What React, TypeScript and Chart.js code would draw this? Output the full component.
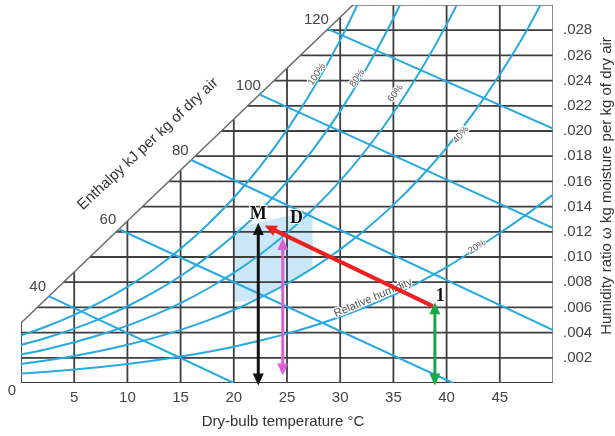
import React, { useEffect, useRef } from 'react';
import { Chart, registerables } from 'chart.js';

Chart.register(...registerables);

// ---------- data ----------
const TEMP_MIN = 0;
const TEMP_MAX = 50;
const W_MIN = 0;
const W_MAX = 0.03;
const TEMP_GRID = [5, 10, 15, 20, 25, 30, 35, 40, 45];
const W_GRID = [0, 0.002, 0.004, 0.006, 0.008, 0.01, 0.012, 0.014, 0.016, 0.018, 0.02, 0.022, 0.024, 0.026, 0.028];

// enthalpy-scale edge (diagonal boundary)
const DIAG_T = [0, 31.2];
const DIAG_W = [0.00476, 0.03];

// relative humidity curves (dry-bulb °C -> kg/kg)
const RH_TEMPS = [0, 2.5, 5, 7.5, 10, 12.5, 15, 17.5, 20, 22.5, 25, 27.5, 30, 32.5, 35, 37.5, 40, 42.5, 45, 47.5, 50];
const RH_100 = [0.003775, 0.004523, 0.005402, 0.006432, 0.007632, 0.00903, 0.01065, 0.012534, 0.014699, 0.017209, 0.020086, 0.023409, 0.02721, 0.031581];
const RH_80 = [0.003016, 0.003613, 0.004315, 0.005135, 0.006091, 0.007203, 0.008491, 0.009987, 0.011704, 0.013692, 0.015966, 0.018587, 0.021579, 0.025011, 0.028927, 0.033408];
const RH_60 = [0.002259, 0.002706, 0.00323, 0.003843, 0.004557, 0.005387, 0.006347, 0.00746, 0.008737, 0.010213, 0.011898, 0.013837, 0.016045, 0.018572, 0.021446, 0.024724, 0.028442, 0.032664];
const RH_40 = [0.001504, 0.001801, 0.00215, 0.002557, 0.003031, 0.003581, 0.004217, 0.004954, 0.005797, 0.006771, 0.007882, 0.009157, 0.010605, 0.012259, 0.014135, 0.016267, 0.018677, 0.021401, 0.024486, 0.027941, 0.031885];
const RH_20 = [0.000751, 0.000899, 0.001073, 0.001276, 0.001512, 0.001785, 0.002101, 0.002467, 0.002885, 0.003367, 0.003916, 0.004545, 0.005258, 0.00607, 0.006988, 0.008029, 0.0092, 0.01052, 0.011907, 0.013364, 0.01495];
const RH_CURVES = [RH_100, RH_80, RH_60, RH_40, RH_20];
const RH_NAMES = ['100%', '80%', '60%', '40%', '20%'];

// enthalpy lines (kJ/kg)
const ENTHALPY_VALUES = [40, 60, 80, 100, 120];
const ENTHALPY_START_T = [2.6, 9.2, 16.0, 22.4, 28.8];
const ENTHALPY_START_W = [0.0069, 0.0122, 0.0177, 0.0229, 0.0281];
const ENTHALPY_END_T = [20.0, 40.6, 50, 50, 50];
const ENTHALPY_END_W = [0, 0, 0.0042, 0.0123, 0.0202];

// shaded zone
const ZONE_T = [20, 27.4, 27.4, 24.4, 22, 20];
const ZONE_W = [0.0123, 0.0137, 0.009, 0.0076, 0.0066, 0.0064];

// process arrows
const ARROW_T1 = [22.3, 24.6, 38.9, 38.7];
const ARROW_W1 = [-0.0002, 0.0006, -0.0002, 0.0061];
const ARROW_T2 = [22.3, 24.6, 38.9, 22.9];
const ARROW_W2 = [0.0127, 0.0115, 0.0064, 0.0125];

// state point labels
const POINT_NAMES = ['M', 'D', '1'];
const POINT_T = [22.3, 25.9, 39.4];
const POINT_W = [0.0134, 0.0131, 0.0069];

// ---------- styles ----------
const FAMILY = '"Liberation Sans", Arial, sans-serif';
const BLUE = '#27a9e1';
const GRID = '#3e3e3e';
const ARROW_STYLE = [
  { color: '#111111', width: 3, both: true },
  { color: '#d862d6', width: 3, both: true },
  { color: '#18a64a', width: 3, both: true },
  { color: '#ee2020', width: 4, both: false },
];
const RH_LABEL_POS = [
  { t: 27.8, w: 0.0245, a: -56 },
  { t: 31.6, w: 0.0242, a: -56 },
  { t: 35.2, w: 0.023, a: -54 },
  { t: 41.35, w: 0.0197, a: -50 },
  { t: 42.86, w: 0.0108, a: -33 },
];

const diagW = (t: number) => DIAG_W[0] + ((DIAG_W[1] - DIAG_W[0]) * (t - DIAG_T[0])) / (DIAG_T[1] - DIAG_T[0]);
const diagT = (w: number) => DIAG_T[0] + ((DIAG_T[1] - DIAG_T[0]) * (w - DIAG_W[0])) / (DIAG_W[1] - DIAG_W[0]);

function buildGrid() {
  const pts: any[] = [];
  TEMP_GRID.forEach((t) => {
    pts.push({ x: t, y: W_MIN }, { x: t, y: Math.min(W_MAX, diagW(t)) }, { x: t, y: null });
  });
  W_GRID.forEach((w) => {
    pts.push({ x: Math.max(TEMP_MIN, diagT(w)), y: w }, { x: TEMP_MAX, y: w }, { x: TEMP_MAX, y: null });
  });
  pts.push({ x: TEMP_MIN, y: W_MIN }, { x: DIAG_T[0], y: DIAG_W[0] });
  return pts;
}

function buildOutline() {
  return [
    { x: DIAG_T[0], y: DIAG_W[0] },
    { x: DIAG_T[1], y: DIAG_W[1] },
    { x: TEMP_MAX, y: W_MAX },
    { x: TEMP_MAX, y: W_MIN },
  ];
}

function buildEnthalpy() {
  const pts: any[] = [];
  ENTHALPY_VALUES.forEach((_, i) => {
    pts.push({ x: ENTHALPY_START_T[i], y: ENTHALPY_START_W[i] }, { x: ENTHALPY_END_T[i], y: ENTHALPY_END_W[i] }, { x: ENTHALPY_END_T[i], y: null });
  });
  return pts;
}

function drawText(ctx: CanvasRenderingContext2D, text: string, x: number, y: number, angle: number, font: string, color: string, halo = 0) {
  ctx.save();
  ctx.translate(x, y);
  ctx.rotate((angle * Math.PI) / 180);
  ctx.font = font;
  ctx.textAlign = 'center';
  ctx.textBaseline = 'middle';
  if (halo) {
    ctx.strokeStyle = 'rgba(255,255,255,0.95)';
    ctx.lineWidth = halo;
    ctx.lineJoin = 'round';
    ctx.strokeText(text, 0, 0);
  }
  ctx.fillStyle = color;
  ctx.fillText(text, 0, 0);
  ctx.restore();
}

function drawArrow(ctx: CanvasRenderingContext2D, x1: number, y1: number, x2: number, y2: number, color: string, width: number, both: boolean) {
  const dx = x2 - x1;
  const dy = y2 - y1;
  const len = Math.hypot(dx, dy);
  const ux = dx / len;
  const uy = dy / len;
  const hl = 12;
  const hw = 5.5;
  const sx = both ? x1 + ux * hl * 0.8 : x1;
  const sy = both ? y1 + uy * hl * 0.8 : y1;
  const ex = x2 - ux * hl * 0.8;
  const ey = y2 - uy * hl * 0.8;
  ctx.save();
  ctx.strokeStyle = color;
  ctx.fillStyle = color;
  ctx.lineWidth = width;
  ctx.lineCap = 'butt';
  ctx.beginPath();
  ctx.moveTo(sx, sy);
  ctx.lineTo(ex, ey);
  ctx.stroke();
  const head = (tx: number, ty: number, vx: number, vy: number) => {
    const bx = tx - vx * hl;
    const by = ty - vy * hl;
    ctx.beginPath();
    ctx.moveTo(tx, ty);
    ctx.lineTo(bx - vy * hw, by + vx * hw);
    ctx.lineTo(bx + vy * hw, by - vx * hw);
    ctx.closePath();
    ctx.fill();
  };
  head(x2, y2, ux, uy);
  if (both) head(x1, y1, -ux, -uy);
  ctx.restore();
}

const overlayPlugin = {
  id: 'psychroOverlay',
  beforeDatasetsDraw(chart: any) {
    const { ctx } = chart;
    const x = chart.scales.x;
    const y = chart.scales.y;
    ctx.save();
    ctx.beginPath();
    ZONE_T.forEach((t, i) => {
      const px = x.getPixelForValue(t);
      const py = y.getPixelForValue(ZONE_W[i]);
      if (i === 0) ctx.moveTo(px, py);
      else ctx.lineTo(px, py);
    });
    ctx.closePath();
    ctx.fillStyle = 'rgba(140, 203, 242, 0.45)';
    ctx.fill();
    ctx.restore();
  },
  afterDatasetsDraw(chart: any) {
    const { ctx } = chart;
    const x = chart.scales.x;
    const y = chart.scales.y;

    // RH labels
    RH_NAMES.forEach((name, i) => {
      const p = RH_LABEL_POS[i];
      drawText(ctx, name, x.getPixelForValue(p.t), y.getPixelForValue(p.w), p.a, `9.5px ${FAMILY}`, '#555', 2.5);
    });
    drawText(ctx, 'Relative humidity', x.getPixelForValue(33.1), y.getPixelForValue(0.00675), -23, `11px ${FAMILY}`, '#555', 3);

    // enthalpy numbers
    ENTHALPY_VALUES.forEach((v, i) => {
      const px = x.getPixelForValue(ENTHALPY_START_T[i]) - 11;
      const py = y.getPixelForValue(ENTHALPY_START_W[i]) - 9;
      drawText(ctx, String(v), px, py, 0, `15px ${FAMILY}`, '#444');
    });
    drawText(ctx, '0', x.getPixelForValue(TEMP_MIN) - 9, y.getPixelForValue(W_MIN) + 8, 0, `15px ${FAMILY}`, '#444');

    // titles
    drawText(ctx, 'Enthalpy kJ per kg of dry air', 148, 144, -43, `15px ${FAMILY}`, '#333');
    drawText(ctx, 'Dry-bulb temperature °C', 283, 422, 0, `15px ${FAMILY}`, '#333');
    drawText(ctx, 'Humidity ratio \u03c9 kg moisture per kg of dry air', 607, 186, -90, `15px ${FAMILY}`, '#333');

    // arrows
    ARROW_T1.forEach((_, i) => {
      const s = ARROW_STYLE[i];
      drawArrow(
        ctx,
        x.getPixelForValue(ARROW_T1[i]),
        y.getPixelForValue(ARROW_W1[i]),
        x.getPixelForValue(ARROW_T2[i]),
        y.getPixelForValue(ARROW_W2[i]),
        s.color,
        s.width,
        s.both
      );
    });

    // state point labels
    POINT_NAMES.forEach((n, i) => {
      drawText(ctx, n, x.getPixelForValue(POINT_T[i]), y.getPixelForValue(POINT_W[i]), 0, `bold 18px "Liberation Serif", "DejaVu Serif", serif`, '#111', 2);
    });
  },
};

export default function App() {
  const ref = useRef<HTMLCanvasElement>(null);

  useEffect(() => {
    if (!ref.current) return;
    const rhDatasets = RH_CURVES.map((vals, i) => ({
      label: RH_NAMES[i],
      data: vals.map((w, j) => ({ x: RH_TEMPS[j], y: w })),
      borderColor: BLUE,
      borderWidth: 2,
      pointRadius: 0,
      cubicInterpolationMode: 'monotone' as const,
      order: 3,
    }));

    const chart = new Chart(ref.current, {
      type: 'line',
      data: {
        datasets: [
          {
            label: 'grid',
            data: buildGrid(),
            borderColor: GRID,
            borderWidth: 1.8,
            pointRadius: 0,
            spanGaps: false,
            order: 6,
          },
          {
            label: 'outline',
            data: buildOutline(),
            borderColor: '#6a6a6a',
            borderWidth: 1.5,
            pointRadius: 0,
            order: 5,
          },
          ...rhDatasets,
          {
            label: 'enthalpy',
            data: buildEnthalpy(),
            borderColor: BLUE,
            borderWidth: 2,
            pointRadius: 0,
            spanGaps: false,
            order: 2,
          },
        ] as any,
      },
      options: {
        responsive: false,
        animation: false,
        devicePixelRatio: 1,
        events: [],
        layout: { padding: { left: 21, top: 5, right: 0, bottom: 0 } },
        plugins: {
          legend: { display: false },
          tooltip: { enabled: false },
          title: { display: false },
        },
        scales: {
          x: {
            type: 'linear',
            position: 'bottom',
            min: TEMP_MIN,
            max: TEMP_MAX,
            grid: { display: false, drawTicks: false },
            border: { display: false },
            ticks: {
              stepSize: 5,
              padding: 6,
              color: '#444',
              font: { size: 15, family: FAMILY },
              maxRotation: 0,
              autoSkip: false,
              callback: (v: any) => (v > TEMP_MIN && v < TEMP_MAX ? String(v) : ''),
            },
            afterFit: (s: any) => {
              s.height = 53;
              s.paddingLeft = 0;
              s.paddingRight = 0;
            },
          },
          y: {
            type: 'linear',
            position: 'right',
            min: W_MIN,
            max: W_MAX,
            grid: { display: false, drawTicks: false },
            border: { display: false },
            ticks: {
              stepSize: 0.002,
              padding: 10,
              color: '#444',
              font: { size: 15, family: FAMILY },
              autoSkip: false,
              callback: (v: any) => (v > 0.0005 && v < 0.029 ? Number(v).toFixed(3).replace(/^0/, '') : ''),
            },
            afterFit: (s: any) => {
              s.width = 62;
              s.paddingTop = 0;
              s.paddingBottom = 0;
            },
          },
        },
      } as any,
      plugins: [overlayPlugin],
    });
    return () => chart.destroy();
  }, []);

  return (
    <div style={{ position: 'absolute', left: 0, top: 0, width: 615, height: 436, background: '#fff' }}>
      <canvas ref={ref} width={615} height={436} style={{ display: 'block', width: 615, height: 436 }} />
    </div>
  );
}
